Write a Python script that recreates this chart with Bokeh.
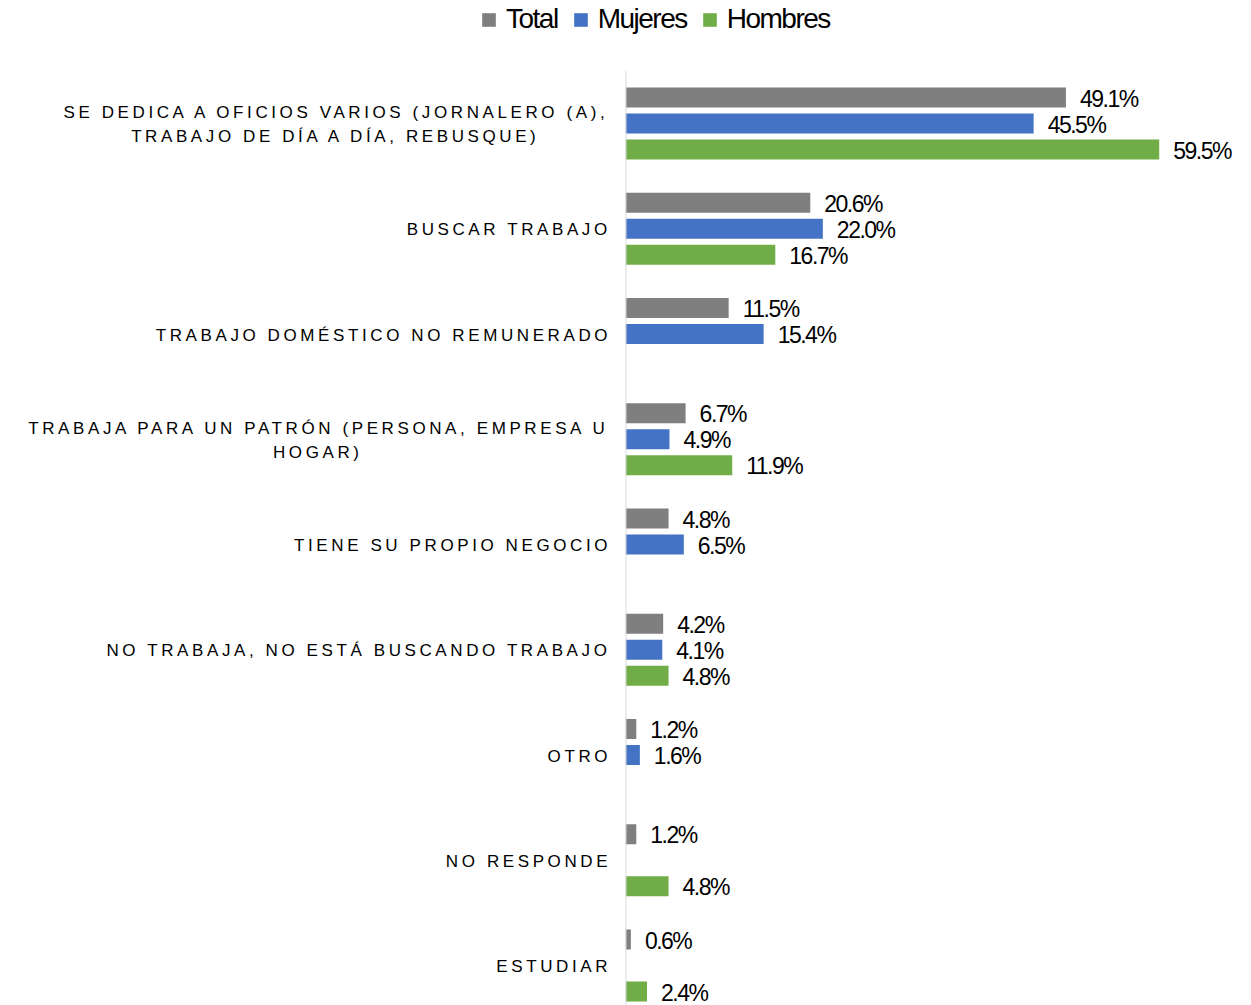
import pandas as pd
from bokeh.plotting import figure
from bokeh.models import ColumnDataSource, Range1d, Legend, LegendItem, Span
from bokeh.layouts import column, row
from bokeh.core.properties import value
from bokeh.embed import file_html
from bokeh.resources import INLINE

# ---------------- data ----------------
categories = [
    "SE DEDICA A OFICIOS VARIOS (JORNALERO (A),\nTRABAJO DE DÍA A DÍA, REBUSQUE)",
    "BUSCAR TRABAJO",
    "TRABAJO DOMÉSTICO NO REMUNERADO",
    "TRABAJA PARA UN PATRÓN (PERSONA, EMPRESA U\nHOGAR)",
    "TIENE SU PROPIO NEGOCIO",
    "NO TRABAJA, NO ESTÁ BUSCANDO TRABAJO",
    "OTRO",
    "NO RESPONDE",
    "ESTUDIAR",
]
series = ["Total", "Mujeres", "Hombres"]
total = [49.1, 20.6, 11.5, 6.7, 4.8, 4.2, 1.2, 1.2, 0.6]
mujeres = [45.5, 22.0, 15.4, 4.9, 6.5, 4.1, 1.6, None, None]
hombres = [59.5, 16.7, None, 11.9, None, 4.8, None, 4.8, 2.4]
colors = ["#7F7F7F", "#4472C4", "#70AD47"]

# ---------------- layout / style ----------------
FONT = "Liberation Sans"
TOTAL_W = 1251
LEG_H = 70
FIG_H = 935
LABEL_W = 620
MAIN_W = TOTAL_W - LABEL_W
MAIN_LEFT = 5
PX_PER_PCT = 8.97
PX_PER_CAT = 105.25
TOP_PAD = 53.0
BAR_PITCH = 26.0
BAR_PX = 20.0
LS = 3.6           # letter spacing of category labels (px)
LABEL_SIZE = 17    # px
LABEL_RIGHT = 607  # right edge of the label block (px)
NARROW = ":host { letter-spacing: -1.5px; }"

y_end = TOP_PAD / PX_PER_CAT
y_start = y_end - FIG_H / PX_PER_CAT
y_range = Range1d(y_start, y_end)

offsets = {"Total": BAR_PITCH / PX_PER_CAT, "Mujeres": 0.0, "Hombres": -BAR_PITCH / PX_PER_CAT}
series_vals = {"Total": total, "Mujeres": mujeres, "Hombres": hombres}
series_col = dict(zip(series, colors))

rows = []
for i, cat in enumerate(categories):
    for s in series:
        v = series_vals[s][i]
        if v is None:
            continue
        rows.append(dict(cat=cat, series=s, value=v, y=-i + offsets[s],
                         color=series_col[s], label=f"{v:.1f}%"))
df = pd.DataFrame(rows)
src = ColumnDataSource(df)


def base_fig(w, h, xr, yr, **kw):
    p = figure(width=w, height=h, x_range=xr, y_range=yr,
               output_backend="svg", toolbar_location=None,
               x_axis_location=None, y_axis_location=None,
               min_border=0, outline_line_color=None,
               background_fill_color="white", border_fill_color="white", **kw)
    p.grid.visible = False
    return p


# ---------------- main bars ----------------
main = base_fig(MAIN_W, FIG_H, Range1d(0, (MAIN_W - MAIN_LEFT) / PX_PER_PCT), y_range,
                stylesheets=[NARROW])
main.min_border_left = MAIN_LEFT
main.hbar(y="y", left=0, right="value", height=BAR_PX / PX_PER_CAT,
          fill_color="color", line_color=None, source=src)
main.text(x="value", y="y", text="label", x_offset=14, y_offset=1,
          text_align="left", text_baseline="middle",
          text_font=value(FONT), text_font_size="23px", text_color="#000000",
          source=src)
main.add_layout(Span(location=0, dimension="height", line_color="#D9D9D9", line_width=2))

# ---------------- category labels ----------------
# approximate advance widths (Arial metrics, per 1000 em) used to centre second lines
W = {"A": 667, "B": 667, "C": 722, "D": 722, "E": 667, "F": 611, "G": 778, "H": 722,
     "I": 278, "J": 500, "K": 667, "L": 556, "M": 833, "N": 722, "O": 778, "P": 667,
     "Q": 778, "R": 722, "S": 667, "T": 611, "U": 722, "V": 667, "W": 944, "X": 667,
     "Y": 667, "Z": 611, " ": 278, "(": 333, ")": 333, ",": 278,
     "Á": 667, "É": 667, "Í": 278, "Ó": 778, "Ú": 722}


def est_w(s):
    return sum(W.get(c, 600) for c in s) / 1000 * LABEL_SIZE


l1 = dict(x=[], y=[], text=[], xo=[], yo=[])
l2 = dict(x=[], y=[], text=[], xo=[], yo=[])
for i, cat in enumerate(categories):
    lines = cat.split("\n")
    n1 = len(lines[0])
    l1["x"].append(LABEL_RIGHT)
    l1["y"].append(-i)
    l1["text"].append(lines[0])
    l1["xo"].append(-(n1 - 1) * LS)
    l1["yo"].append(-11 if len(lines) > 1 else 1)
    if len(lines) > 1:
        n2 = len(lines[1])
        w1 = est_w(lines[0]) + (n1 - 1) * LS
        l2["x"].append(LABEL_RIGHT)
        l2["y"].append(-i)
        l2["text"].append(lines[1])
        l2["xo"].append(-w1 / 2 - (n2 - 1) * LS / 2)
        l2["yo"].append(13)

labels = base_fig(LABEL_W, FIG_H, Range1d(0, LABEL_W), y_range,
                  stylesheets=[":host { letter-spacing: %.1fpx; }" % LS])
labels.text(x="x", y="y", text="text", x_offset="xo", y_offset="yo",
            text_align="right", text_baseline="middle",
            text_font=value(FONT), text_font_size=f"{LABEL_SIZE}px", text_color="#000000",
            source=ColumnDataSource(l1))
labels.text(x="x", y="y", text="text", x_offset="xo", y_offset="yo",
            text_align="center", text_baseline="middle",
            text_font=value(FONT), text_font_size=f"{LABEL_SIZE}px", text_color="#000000",
            source=ColumnDataSource(l2))

# ---------------- legend ----------------
leg = base_fig(TOTAL_W, LEG_H, Range1d(0, TOTAL_W), Range1d(0, LEG_H),
               stylesheets=[NARROW])
items = []
for s, c in zip(series, colors):
    # legend swatch renderers, their single bar lies outside the visible range
    r = leg.hbar(y=[-100], right=[1], height=1, fill_color=c, line_color=None)
    items.append(LegendItem(label=s, renderers=[r]))
legend = Legend(items=items, orientation="horizontal", location=(480, 35),
                glyph_width=17, glyph_height=17, label_standoff=9, spacing=14,
                padding=0, margin=0, border_line_color=None, background_fill_alpha=0,
                label_text_font=FONT, label_text_font_size="28px",
                label_text_color="#000000")
leg.add_layout(legend)

layout = column(leg, row(labels, main))
open("out.html", "w").write(file_html(layout, INLINE))
